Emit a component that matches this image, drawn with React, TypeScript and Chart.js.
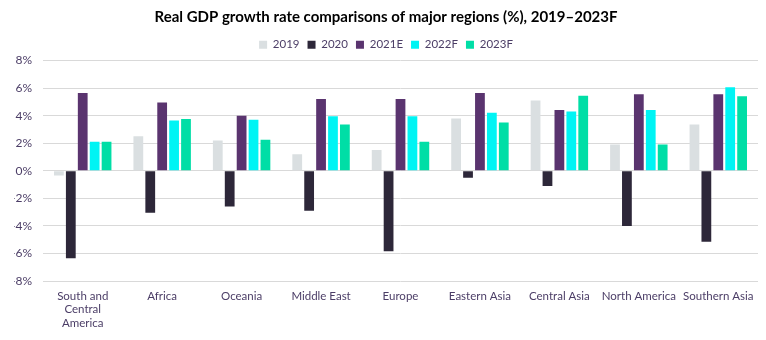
import React, { useEffect, useRef } from "react";
import { Chart, registerables } from "chart.js";

Chart.register(...registerables);

const categories: (string | string[])[] = [
  ["South and", "Central", "America"],
  "Africa",
  "Oceania",
  "Middle East",
  "Europe",
  "Eastern Asia",
  "Central Asia",
  "North America",
  "Southern Asia",
];

const seriesLabels = ["2019", "2020", "2021E", "2022F", "2023F"];
const v2019 = [-0.35, 2.5, 2.2, 1.2, 1.5, 3.8, 5.1, 1.9, 3.35];
const v2020 = [-6.35, -3.05, -2.6, -2.9, -5.85, -0.5, -1.1, -4.0, -5.15];
const v2021 = [5.65, 4.95, 4.0, 5.2, 5.2, 5.65, 4.4, 5.55, 5.55];
const v2022 = [2.1, 3.65, 3.7, 3.95, 3.95, 4.2, 4.3, 4.4, 6.05];
const v2023 = [2.1, 3.75, 2.25, 3.35, 2.1, 3.5, 5.45, 1.9, 5.4];
const yTicks = [-8, -6, -4, -2, 0, 2, 4, 6, 8];

const colors = ["#DADFE1", "#2D2739", "#5A346F", "#00F4F4", "#00DEA6"];
const textColor = "#4b3d66";
const font = "Lato, 'Open Sans', sans-serif";

export default function App() {
  const ref = useRef<HTMLCanvasElement | null>(null);
  useEffect(() => {
    document.body.style.margin = "0";
    const values = [v2019, v2020, v2021, v2022, v2023];
    const chart = new Chart(ref.current!, {
      type: "bar",
      data: {
        labels: categories,
        datasets: seriesLabels.map((l, i) => ({
          label: l,
          data: values[i],
          backgroundColor: colors[i],
          borderWidth: 0,
          categoryPercentage: 0.75,
          barPercentage: 0.82,
        })),
      },
      options: {
        responsive: false,
        animation: false,
        layout: { padding: { left: 14, right: 8, top: 0, bottom: 0 } },
        plugins: {
          title: {
            display: true,
            text: "Real GDP growth rate comparisons of major regions (%), 2019–2023F",
            color: "#000",
            font: { family: font, size: 15, weight: "bold" },
            padding: { top: 8, bottom: 5 },
          },
          legend: {
            display: true,
            labels: {
              boxWidth: 8,
              boxHeight: 8,
              color: textColor,
              font: { family: font, size: 11.5 },
              padding: 8,
            },
          },
          tooltip: { enabled: false },
        },
        scales: {
          x: {
            grid: { display: false, drawTicks: false },
            border: { display: false },
            ticks: {
              color: textColor,
              font: { family: font, size: 11.5 },
              maxRotation: 0,
              autoSkip: false,
              padding: 8,
            },
            afterFit: (s: any) => {
              s.height = 59;
            },
          },
          y: {
            min: -8,
            max: 8,
            afterBuildTicks: (s: any) => {
              s.ticks = yTicks.map((v) => ({ value: v }));
            },
            grid: { color: "#d9d9d9", drawTicks: false, lineWidth: 1 },
            border: { display: false },
            ticks: {
              color: textColor,
              font: { family: font, size: 12 },
              padding: 11,
              callback: (v: any) => v + "%",
            },
            afterFit: (s: any) => {
              s.width = 29;
            },
          },
        },
      },
    } as any);
    return () => chart.destroy();
  }, []);
  return (
    <div style={{ width: 766, height: 340 }}>
      <canvas ref={ref} width={766} height={340} />
    </div>
  );
}
